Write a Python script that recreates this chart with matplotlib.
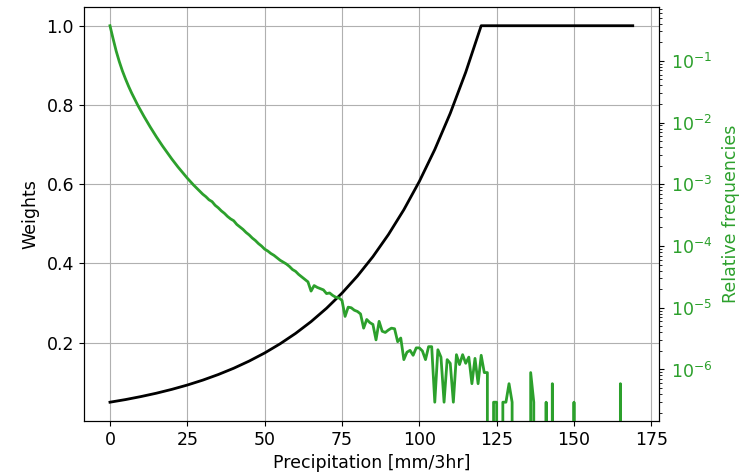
import numpy as np
import matplotlib
matplotlib.use("Agg")
import matplotlib.pyplot as plt

plt.rcParams["font.size"] = 12.5

# Weights curve (black), read at 5 mm/3hr steps
weight_x = [0, 5, 10, 15, 20, 25, 30, 35, 40, 45, 50, 55, 60, 65, 70, 75, 80,
            85, 90, 95, 100, 105, 110, 115, 120, 169]
weights = [0.050, 0.0566, 0.0642, 0.0727, 0.0824, 0.0933, 0.1057, 0.1198,
           0.1357, 0.1538, 0.1742, 0.1974, 0.2236, 0.2533, 0.2870, 0.3252,
           0.3684, 0.4173, 0.4729, 0.5357, 0.6070, 0.6876, 0.7790, 0.8826,
           1.0, 1.0]

# Relative frequencies (green), log10 values per 1 mm/3hr bin, None = empty bin
log10_freq = [
    -0.43, -0.64, -0.84, -1.01, -1.16, -1.29, -1.41, -1.52, -1.62, -1.72,
    -1.81, -1.90, -1.985, -2.07, -2.15, -2.23, -2.305, -2.38, -2.45, -2.52,
    -2.59, -2.655, -2.72, -2.78, -2.84, -2.90, -2.955, -3.01, -3.06, -3.11,
    -3.16, -3.20, -3.25, -3.28, -3.34, -3.38, -3.43, -3.47, -3.52, -3.56,
    -3.59, -3.65, -3.69, -3.73, -3.78, -3.82, -3.87, -3.91, -3.96, -4.00,
    -4.05, -4.08, -4.12, -4.15, -4.19, -4.23, -4.26, -4.29, -4.33, -4.38,
    -4.41, -4.46, -4.50, -4.54, -4.58, -4.73, -4.64, -4.67, -4.69, -4.71,
    -4.77, -4.76, -4.80, -4.83, -4.84, -4.88, -5.14, -4.99, -5.00, -5.04,
    -5.06, -5.10, -5.33, -5.19, -5.24, -5.27, -5.52, -5.22, -5.38, -5.40,
    -5.36, -5.33, -5.34, -5.55, -5.49, -5.84, -5.72, -5.69, -5.77, -5.65,
    -5.65, -5.70, -5.84, -5.63, -5.63, -6.53, -5.68, -5.80, -6.53, -5.84,
    -5.90, -6.53, -5.76, -5.92, -5.76, -5.90, -5.80, -6.23, -5.82, -6.23,
    -5.77, -6.05, -6.05, None, -6.53, -6.53, None, -6.53, -6.53, -6.23,
    -6.53, None, None, None, None, None, -6.05, -6.53, None, None,
    None, -6.53, None, -6.23, None, None, None, None, None, None,
    -6.53, None, None, None, None, None, None, None, None, None,
    None, None, None, None, None, -6.23, None, None, None, None,
]

freq_x = np.arange(len(log10_freq))
rel_freq = np.array([0.0 if v is None else 10.0 ** v for v in log10_freq])

fig = plt.figure(figsize=(7.42, 4.76), dpi=100)
ax = fig.add_axes([0.113, 0.1155, 0.775, 0.870])
ax.plot(weight_x, weights, color="k", lw=2.0)
ax.set_xlabel("Precipitation [mm/3hr]", labelpad=4)
ax.set_ylabel("Weights", labelpad=5)
ax.grid(True)
ax.set_xticks([0, 25, 50, 75, 100, 125, 150, 175])
ax.set_yticks([0.2, 0.4, 0.6, 0.8, 1.0])

green = "tab:green"
ax2 = ax.twinx()
ax2.plot(freq_x, rel_freq, color=green, lw=2.0)
ax2.set_yscale("log")
ax2.set_ylabel("Relative frequencies", color=green, labelpad=7)
ax2.tick_params(axis="y", labelcolor=green, pad=5)
ax.set_xlim(-8.45, 177.45)

fig.savefig("out.png", dpi=100)
